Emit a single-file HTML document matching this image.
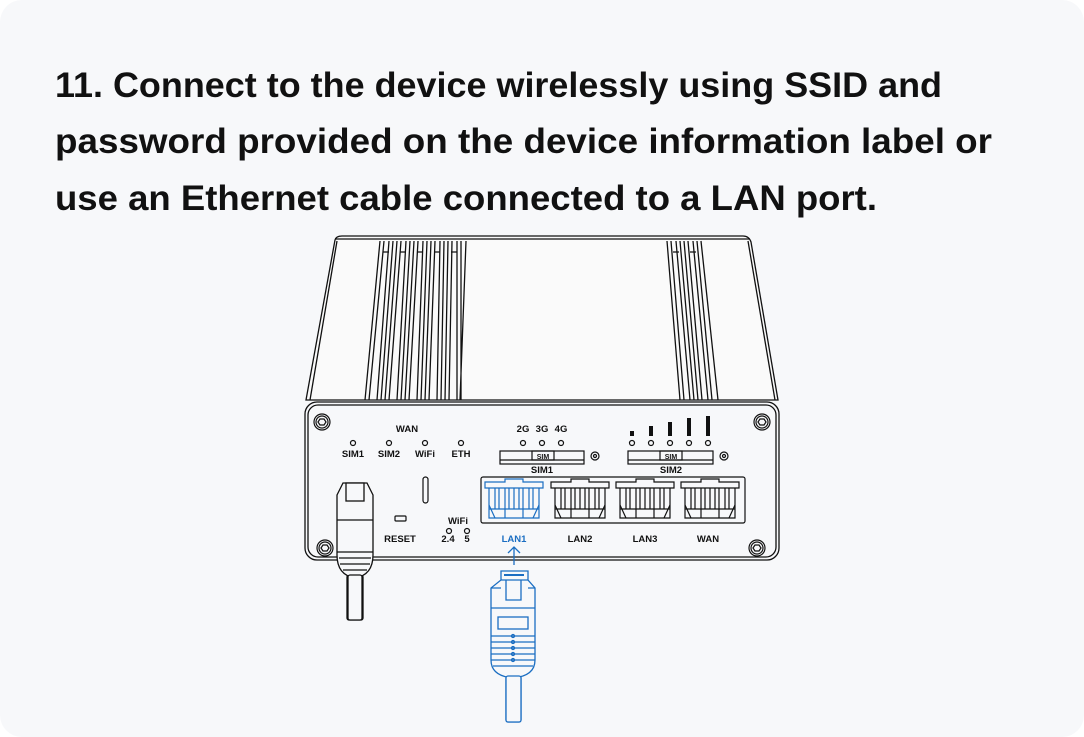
<!DOCTYPE html>
<html><head><meta charset="utf-8"><style>
html,body{margin:0;padding:0;background:#fff;}
svg{display:block}
</style></head><body>
<svg width="1084" height="737" viewBox="0 0 1084 737" xmlns="http://www.w3.org/2000/svg" font-family="Liberation Sans, sans-serif">
<rect x="0" y="0" width="1084" height="737" rx="22" fill="#f7f8fa"/>
<g font-weight="bold" font-size="35" fill="#111">
<text x="55" y="97" textLength="887" lengthAdjust="spacingAndGlyphs">11. Connect to the device wirelessly using SSID and</text>
<text x="55" y="153" textLength="937" lengthAdjust="spacingAndGlyphs">password provided on the device information label or</text>
<text x="55" y="210" textLength="822" lengthAdjust="spacingAndGlyphs">use an Ethernet cable connected to a LAN port.</text>
</g>
<g fill="none" stroke="#111" stroke-width="1.3">
<!-- top body -->
<path d="M335,240 Q336,236 342,236 L743,236 Q749,236 751,242 L778,400 L306,400 Z" fill="#fafafa"/>
<path d="M337,241 L310,400 M748,241 L775,400 M335,239 L750,239"/>
<!-- left fins -->
<g>
<path d="M380,241 L365,400 M384,241 L369,400 M389,241 L377,400 M393,241 L381,400 M397,241 L385,400 M401,241 L389,400 M406,241 L397,400 M410,241 L401,400 M414,241 L405,400 M418,241 L409,400 M423,241 L417,400 M427,241 L421,400 M431,241 L425,400 M435,241 L429,400 M440,241 L437,400 M444,241 L441,400 M448,241 L445,400 M452,241 L449,400 M457,241 L457,400 M461,241 L461,400 M466,241 L460,400"/>
<path d="M383,252 L389,252 M400,252 L406,252 M417,252 L423,252 M434,252 L440,252 M451,252 L457,252"/>
</g>
<path d="M667,241 L680,400 M671,241 L684,400 M676,241 L690,400 M680,241 L694,400 M684,241 L698,400 M688,241 L702,400 M693,241 L708,400 M697,241 L712,400 M701,241 L718,400"/>
<path d="M673,252 L679,252 M690,252 L696,252"/>
<!-- front panel -->
<rect x="305" y="402" width="474" height="158" rx="12" fill="#f7f8fa"/>
<rect x="308" y="405" width="468" height="152" rx="10"/>
</g>
<!-- screws -->
<g fill="none" stroke="#111" stroke-width="1.2">
<g transform="translate(322,422)"><circle r="8"/><circle r="6"/><path d="M-4,0 L-2,-3 L2,-3 L4,0 L2,3 L-2,3 Z"/></g>
<g transform="translate(762,422)"><circle r="8"/><circle r="6"/><path d="M-4,0 L-2,-3 L2,-3 L4,0 L2,3 L-2,3 Z"/></g>
<g transform="translate(325,548)"><circle r="8"/><circle r="6"/><path d="M-4,0 L-2,-3 L2,-3 L4,0 L2,3 L-2,3 Z"/></g>
<g transform="translate(757,548)"><circle r="8"/><circle r="6"/><path d="M-4,0 L-2,-3 L2,-3 L4,0 L2,3 L-2,3 Z"/></g>
<!-- LEDs -->
<circle cx="353" cy="443" r="2.5"/><circle cx="389" cy="443" r="2.5"/><circle cx="425" cy="443" r="2.5"/><circle cx="461" cy="443" r="2.5"/>
<circle cx="523" cy="443" r="2.5"/><circle cx="542" cy="443" r="2.5"/><circle cx="561" cy="443" r="2.5"/>
<circle cx="632" cy="443" r="2.5"/><circle cx="651" cy="443" r="2.5"/><circle cx="670" cy="443" r="2.5"/><circle cx="689" cy="443" r="2.5"/><circle cx="708" cy="443" r="2.5"/>
<!-- SIM slots -->
<rect x="500" y="451" width="84" height="13"/><path d="M500,460 L584,460"/><rect x="532" y="451" width="22" height="9"/>
<circle cx="595" cy="456" r="4"/><circle cx="595" cy="456" r="1.5"/>
<rect x="628" y="451" width="85" height="13"/><path d="M628,460 L713,460"/><rect x="660" y="451" width="22" height="9"/>
<circle cx="724" cy="456" r="4"/><circle cx="724" cy="456" r="1.5"/>
<!-- ports frame -->
<rect x="481" y="477" width="264" height="46" rx="2"/>
<rect x="423" y="477" width="5" height="26" rx="2.5"/>
<rect x="395" y="516" width="11" height="5" rx="1"/>
<circle cx="449" cy="531" r="2.5"/><circle cx="467" cy="531" r="2.5"/>
</g>
<!-- signal bars -->
<g fill="#111">
<rect x="630" y="431" width="4" height="5"/><rect x="649" y="426" width="4" height="10"/><rect x="668" y="422" width="4" height="14"/><rect x="687" y="418" width="4" height="18"/><rect x="706" y="416" width="4" height="20"/>
</g>
<!-- ports -->
<defs>
<g id="port" fill="none" stroke-width="1.2">
<path d="M0,3 L0,9 L58,9 L58,3 L38,3 L38,0 L20,0 L20,3 Z"/>
<path d="M4,9 L4,39 L54,39 L54,9"/>
<path d="M10,9 L10,30 M14,9 L14,30 M20,9 L20,39 M24,9 L24,30 M29,9 L29,30 M34,9 L34,30 M38,9 L38,39 M44,9 L44,30 M48,9 L48,30"/>
<path d="M4,26 L10,39 M54,26 L48,39 M4,30 L54,30"/>
</g>
</defs>
<use href="#port" x="485" y="479" stroke="#1b6ec2"/>
<use href="#port" x="551" y="479" stroke="#111"/>
<use href="#port" x="616" y="479" stroke="#111"/>
<use href="#port" x="681" y="479" stroke="#111"/>
<!-- labels -->
<g font-weight="bold" font-size="9.5" fill="#111" text-anchor="middle">
<text x="407" y="432">WAN</text>
<text x="353" y="457">SIM1</text><text x="389" y="457">SIM2</text><text x="425" y="457">WiFi</text><text x="461" y="457">ETH</text>
<text x="523" y="432">2G</text><text x="542" y="432">3G</text><text x="561" y="432">4G</text>
<text x="543" y="459" font-size="7">SIM</text><text x="671" y="459" font-size="7">SIM</text>
<text x="542" y="473">SIM1</text><text x="671" y="473">SIM2</text>
<text x="458" y="524">WiFi</text><text x="448" y="542">2.4</text><text x="467" y="542">5</text>
<text x="400" y="542">RESET</text>
<text x="514" y="542" fill="#1b6ec2">LAN1</text><text x="580" y="542">LAN2</text><text x="645" y="542">LAN3</text><text x="708" y="542">WAN</text>
</g>
<!-- left cable -->
<g fill="#f7f8fa" stroke="#111" stroke-width="1.3">
<rect x="347" y="575" width="16" height="45" rx="2"/>
<path d="M337,495 L343,483 L367,483 L373,495 L373,555 Q373,575 355,578 Q337,575 337,555 Z"/>
<rect x="346" y="483" width="18" height="18"/>
<path d="M337,520 L373,520 M337,552 L373,552 M339,558 L371,558 M340,564 L370,564 M343,570 L367,570"/>
<rect x="348" y="575" width="14" height="45" rx="2"/>
</g>
<!-- blue arrow & plug -->
<g fill="none" stroke="#1b6ec2" stroke-width="1.3">
<path d="M514,565 L514,547 M508,553 L514,547 L520,553"/>
<rect x="506" y="670" width="15" height="52" rx="2" fill="#f7f8fa"/>
<path d="M491,588 L491,660 Q491,676 513,678 Q535,676 535,660 L535,588 L528,580 L528,571 L501,571 L501,580 Z" fill="#f7f8fa"/>
<path d="M501,580 L528,580 M506,580 L506,600 L521,600 L521,580 M491,588 L501,588 M528,588 L535,588 M491,608 L535,608"/>
<rect x="498" y="617" width="30" height="12"/>
<path d="M504,575 L524,575" stroke-width="2"/>
<path d="M491,636 L535,636 M491,642 L535,642 M491,648 L535,648 M491,654 L535,654 M491,660 L535,660 M493,666 L533,666"/>
<circle cx="513" cy="636" r="1.5"/><circle cx="513" cy="642" r="1.5"/><circle cx="513" cy="648" r="1.5"/><circle cx="513" cy="654" r="1.5"/><circle cx="513" cy="660" r="1.5"/>
<rect x="506" y="676" width="15" height="46" rx="2" fill="#f7f8fa"/>
</g>
</svg>
</body></html>
